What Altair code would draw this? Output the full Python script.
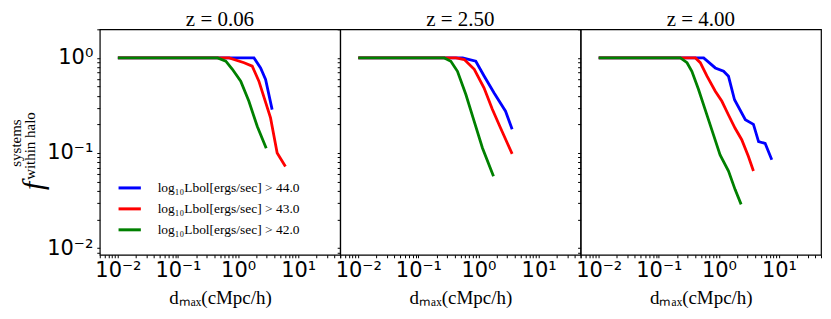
import altair as alt
import pandas as pd

panel_titles = ["z = 0.06", "z = 2.50", "z = 4.00"]
series_labels = [
    "log₁₀Lbol[ergs/sec] > 44.0",
    "log₁₀Lbol[ergs/sec] > 43.0",
    "log₁₀Lbol[ergs/sec] > 42.0",
]
series_colors = ["#0000ff", "#ff0000", "#008000"]

# z = 0.06
z006_l44_x = [0.01, 1.84, 2.37, 2.87, 3.69]
z006_l44_y = [1.0, 1.0, 0.785, 0.593, 0.286]
z006_l43_x = [0.01, 0.71, 1.26, 1.72, 2.22, 3.47, 4.47, 6.14]
z006_l43_y = [1.0, 1.0, 0.89, 0.82, 0.57, 0.234, 0.10, 0.072]
z006_l42_x = [0.01, 0.457, 0.625, 0.805, 1.107, 1.514, 2.09, 2.94]
z006_l42_y = [1.0, 1.0, 0.923, 0.759, 0.569, 0.35, 0.19, 0.112]
# z = 2.50
z250_l44_x = [0.01, 0.545, 0.902, 1.24, 1.82, 2.82, 3.63]
z250_l44_y = [1.0, 1.0, 0.923, 0.646, 0.427, 0.275, 0.178]
z250_l43_x = [0.01, 0.422, 0.581, 0.851, 1.24, 1.70, 2.34, 3.63]
z250_l43_y = [1.0, 1.0, 0.962, 0.759, 0.483, 0.288, 0.182, 0.098]
z250_l42_x = [0.01, 0.27, 0.347, 0.447, 0.617, 0.851, 1.164, 1.778]
z250_l42_y = [1.0, 1.0, 0.923, 0.724, 0.412, 0.214, 0.113, 0.0569]
# z = 4.00
z400_l44_x = [0.01, 0.558, 0.871, 1.197, 1.445, 1.82, 2.754, 3.758, 4.571, 5.888, 7.586]
z400_l44_y = [1.0, 1.0, 0.785, 0.724, 0.641, 0.363, 0.224, 0.2, 0.132, 0.126, 0.0851]
z400_l43_x = [0.01, 0.407, 0.49, 0.631, 0.871, 1.122, 1.445, 1.862, 2.399, 3.09, 3.758]
z400_l43_y = [1.0, 1.0, 0.891, 0.646, 0.447, 0.35, 0.251, 0.182, 0.138, 0.0923, 0.0646]
z400_l42_x = [0.01, 0.229, 0.295, 0.355, 0.457, 0.589, 0.813, 1.047, 1.445, 1.862, 2.344]
z400_l42_y = [1.0, 1.0, 0.891, 0.724, 0.468, 0.288, 0.155, 0.0955, 0.0646, 0.0412, 0.0288]

x_major = [0.01, 0.1, 1, 10]
x_major_labels = ["10⁻²", "10⁻¹", "10⁰", "10¹"]
y_major = [0.01, 0.1, 1]
y_major_labels = ["10⁻²", "10⁻¹", "10⁰"]
x_domain = [0.005, 50]
y_domain = [0.0085, 2]

panel_series = [
    [(z006_l44_x, z006_l44_y), (z006_l43_x, z006_l43_y), (z006_l42_x, z006_l42_y)],
    [(z250_l44_x, z250_l44_y), (z250_l43_x, z250_l43_y), (z250_l42_x, z250_l42_y)],
    [(z400_l44_x, z400_l44_y), (z400_l43_x, z400_l43_y), (z400_l42_x, z400_l42_y)],
]

def minor_ticks(lo, hi):
    out = []
    for dec in [0.001, 0.01, 0.1, 1, 10]:
        for m in range(1, 10):
            v = round(m * dec, 6)
            if lo <= v <= hi:
                out.append(v)
    return out

x_ticks = minor_ticks(*x_domain)
y_ticks = minor_ticks(*y_domain)

def label_expr(vals, labels):
    expr = "''"
    for v, l in zip(reversed(vals), reversed(labels)):
        expr = f"abs(datum.value - {v}) < {v}*1e-6 ? '{l}' : ({expr})"
    return expr

SERIF = "Liberation Serif"
SANS = "DejaVu Sans"
W, H = 241, 226

xscale = alt.Scale(type="log", domain=x_domain, nice=False)
yscale = alt.Scale(type="log", domain=y_domain, nice=False)

def make_panel(i):
    xaxis = alt.Axis(values=x_ticks, labelExpr=label_expr(x_major, x_major_labels),
                     title="dₘₐₓ(cMpc/h)", titleFont=SERIF, titleFontSize=19,
                     titleFontWeight="normal", titlePadding=8,
                     labelFont=SANS, labelFontSize=21, labelPadding=2,
                     labelOverlap=False, labelFlush=False, grid=False,
                     tickSize=3, tickColor="black", domain=False,
                     labelColor="black", titleColor="black")
    if i == 0:
        yaxis = alt.Axis(values=y_ticks, labelExpr=label_expr(y_major, y_major_labels),
                         title=None, labelFont=SANS, labelFontSize=21, labelPadding=4,
                         labelOverlap=False, labelFlush=False, grid=False,
                         tickSize=3, tickColor="black", domain=False, labelColor="black")
    else:
        yaxis = alt.Axis(values=y_ticks, labels=False, title=None, grid=False,
                         tickSize=3, tickColor="black", domain=False)
    layers = []
    for j, (xs, ys) in enumerate(panel_series[i]):
        df = pd.DataFrame({"x": xs, "y": ys, "series": series_labels[j], "idx": range(len(xs))})
        if i == 0:
            legend = alt.Legend(title=None, orient="none", legendX=17, legendY=146,
                                symbolType="stroke", symbolStrokeWidth=3, symbolSize=500,
                                labelFont=SERIF, labelFontSize=13.5, labelColor="black",
                                rowPadding=1, padding=0, labelOffset=15)
        else:
            legend = None
        layers.append(
            alt.Chart(df).mark_line(strokeWidth=2.8, clip=True).encode(
                x=alt.X("x:Q", scale=xscale, axis=xaxis),
                y=alt.Y("y:Q", scale=yscale, axis=yaxis),
                color=alt.Color("series:N", scale=alt.Scale(domain=series_labels, range=series_colors),
                                legend=legend),
                order="idx:Q",
            )
        )
    one = pd.DataFrame({"a": [0]})
    layers.append(alt.Chart(one).mark_text(text=panel_titles[i], font=SERIF, fontSize=21,
                                           align="center", baseline="alphabetic", color="black")
                  .encode(x=alt.value(W / 2), y=alt.value(-3)))
    if i == 0:
        layers.append(alt.Chart(one).mark_text(text="f", font=SERIF, fontStyle="italic", fontSize=30,
                                               angle=270, align="center", baseline="middle", color="black")
                      .encode(x=alt.value(-66), y=alt.value(157)))
        layers.append(alt.Chart(one).mark_text(text="systems", font=SERIF, fontSize=15,
                                               angle=270, align="center", baseline="middle", color="black")
                      .encode(x=alt.value(-84), y=alt.value(114)))
        layers.append(alt.Chart(one).mark_text(text="within halo", font=SERIF, fontSize=15,
                                               angle=270, align="center", baseline="middle", color="black")
                      .encode(x=alt.value(-70), y=alt.value(117)))
    return alt.layer(*layers).properties(width=W, height=H)

chart = alt.hconcat(make_panel(0), make_panel(1), make_panel(2), spacing=0, bounds="flush") \
    .resolve_scale(color="independent") \
    .configure_view(stroke="black", strokeWidth=1.2) \
    .properties(padding=0)

chart.save("out.html", embed_options={"renderer": "svg", "actions": False})
